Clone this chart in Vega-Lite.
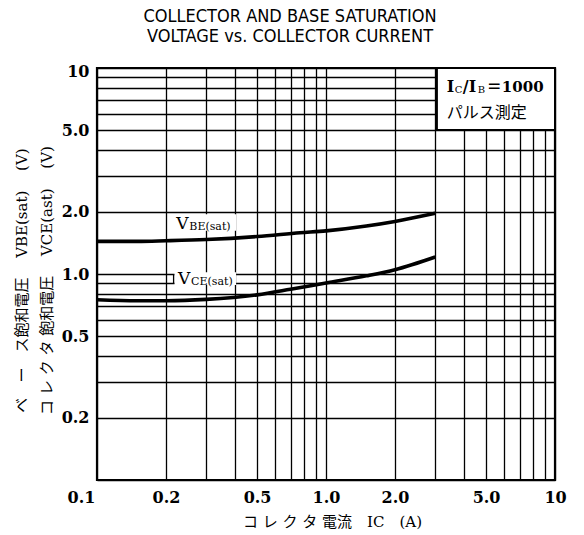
{
  "$schema": "https://vega.github.io/schema/vega-lite/v6.json",
  "width": 458,
  "height": 412,
  "autosize": {"type": "none"},
  "padding": {"left": 97, "top": 68, "right": 29, "bottom": 55},
  "background": "white",
  "config": {
    "view": {"stroke": "black", "strokeWidth": 2.2},
    "axis": {
      "grid": true,
      "gridColor": "black",
      "gridOpacity": 1,
      "gridWidth": 1.3,
      "domain": false,
      "ticks": false,
      "labelFont": "DejaVu Serif",
      "labelFontWeight": "bold",
      "labelFontSize": 16,
      "labelColor": "black",
      "titleColor": "black",
      "titleFontWeight": "normal"
    }
  },
  "title": {
    "text": ["COLLECTOR AND BASE SATURATION", "VOLTAGE vs. COLLECTOR CURRENT"],
    "font": "Liberation Sans Narrow, DejaVu Sans Condensed, sans-serif",
    "fontSize": 18,
    "fontWeight": "normal",
    "color": "black",
    "anchor": "middle",
    "dx": -36,
    "offset": 17,
    "lineHeight": 20
  },
  "datasets": {
    "curves": [
      {"ic": 0.1, "v": 1.44, "s": "VBE"},
      {"ic": 0.15, "v": 1.44, "s": "VBE"},
      {"ic": 0.2, "v": 1.45, "s": "VBE"},
      {"ic": 0.3, "v": 1.47, "s": "VBE"},
      {"ic": 0.5, "v": 1.52, "s": "VBE"},
      {"ic": 0.77, "v": 1.585, "s": "VBE"},
      {"ic": 1.0, "v": 1.62, "s": "VBE"},
      {"ic": 1.5, "v": 1.71, "s": "VBE"},
      {"ic": 2.0, "v": 1.8, "s": "VBE"},
      {"ic": 3.0, "v": 1.97, "s": "VBE"},
      {"ic": 0.1, "v": 0.75, "s": "VCE"},
      {"ic": 0.15, "v": 0.742, "s": "VCE"},
      {"ic": 0.2, "v": 0.742, "s": "VCE"},
      {"ic": 0.3, "v": 0.753, "s": "VCE"},
      {"ic": 0.5, "v": 0.792, "s": "VCE"},
      {"ic": 0.7, "v": 0.843, "s": "VCE"},
      {"ic": 1.0, "v": 0.905, "s": "VCE"},
      {"ic": 1.5, "v": 0.98, "s": "VCE"},
      {"ic": 2.0, "v": 1.05, "s": "VCE"},
      {"ic": 3.0, "v": 1.21, "s": "VCE"}
    ]
  },
  "layer": [
    {
      "data": {"name": "curves"},
      "mark": {"type": "line", "color": "black", "strokeWidth": 3.6, "interpolate": "monotone"},
      "encoding": {
        "x": {
          "field": "ic",
          "type": "quantitative",
          "scale": {"type": "log", "domain": [0.1, 10], "nice": false},
          "axis": {
            "values": [0.1, 0.2, 0.3, 0.4, 0.5, 0.6, 0.7, 0.8, 0.9, 1, 2, 3, 4, 5, 6, 7, 8, 9, 10],
            "labelExpr": "datum.value == 0.1 ? '0.1' : datum.value == 0.2 ? '0.2' : datum.value == 0.5 ? '0.5' : datum.value == 1 ? '1.0' : datum.value == 2 ? '2.0' : datum.value == 5 ? '5.0' : datum.value == 10 ? '10' : ''",
            "labelFlush": false,
            "labelPadding": 9,
            "labelOffset": {"condition": {"test": "datum.value == 0.1", "value": -16}, "value": 0},
            "title": "コ レ ク タ 電流　IC　(A)",
            "titleFont": "DejaVu Serif, Noto Sans CJK JP",
            "titleFontSize": 15,
            "titleX": 235,
            "titleY": 41,
            "titleAlign": "center",
            "titleBaseline": "middle"
          }
        },
        "y": {
          "field": "v",
          "type": "quantitative",
          "scale": {"type": "log", "domain": [0.1, 10], "nice": false},
          "axis": {
            "values": [0.1, 0.2, 0.3, 0.4, 0.5, 0.6, 0.7, 0.8, 0.9, 1, 2, 3, 4, 5, 6, 7, 8, 9, 10],
            "labelExpr": "datum.value == 0.2 ? '0.2' : datum.value == 0.5 ? '0.5' : datum.value == 1 ? '1.0' : datum.value == 2 ? '2.0' : datum.value == 5 ? '5.0' : datum.value == 10 ? '10' : ''",
            "labelFlush": false,
            "labelPadding": 8,
            "labelOffset": {"condition": {"test": "datum.value == 10", "value": 3}, "value": 0},
            "title": ["ベ　ー　ス飽和電圧　 VBE(sat)　 (V)", "コ レ ク タ 飽和電圧　 VCE(ast)　 (V)"],
            "titleFont": "DejaVu Serif, Noto Sans CJK JP",
            "titleFontSize": 15,
            "titleAngle": -90,
            "titleX": -76,
            "titleY": 212,
            "titleAlign": "center",
            "titleBaseline": "middle",
            "titleLineHeight": 25
          }
        },
        "detail": {"field": "s"}
      }
    },
    {
      "data": {"values": [{"x": 3.05, "x2": 10, "y": 5, "y2": 10}]},
      "mark": {"type": "rect", "fill": "white", "stroke": "black", "strokeWidth": 2},
      "encoding": {
        "x": {"field": "x", "type": "quantitative"},
        "x2": {"field": "x2"},
        "y": {"field": "y", "type": "quantitative"},
        "y2": {"field": "y2"}
      }
    },
    {
      "data": {"values": [
        {"x": 0.218, "x2": 0.405, "y": 0.885, "y2": 1.02},
        {"x": 0.218, "x2": 0.405, "y": 1.62, "y2": 1.95}
      ]},
      "mark": {"type": "rect", "fill": "white"},
      "encoding": {
        "x": {"field": "x", "type": "quantitative"},
        "x2": {"field": "x2"},
        "y": {"field": "y", "type": "quantitative"},
        "y2": {"field": "y2"}
      }
    },
    {
      "data": {"values": [{"x": 0.216, "y": 0.9, "y2": 0.99}]},
      "mark": {"type": "rule", "color": "black", "strokeWidth": 1.3},
      "encoding": {
        "x": {"field": "x", "type": "quantitative"},
        "y": {"field": "y", "type": "quantitative"},
        "y2": {"field": "y2"}
      }
    },
    {
      "data": {"values": [{"x": 0.222, "y": 1.75, "t": "V"}, {"x": 0.226, "y": 0.946, "t": "V"}]},
      "mark": {"type": "text", "align": "left", "baseline": "middle", "font": "DejaVu Serif", "fontSize": 17, "color": "black"},
      "encoding": {
        "x": {"field": "x", "type": "quantitative"},
        "y": {"field": "y", "type": "quantitative"},
        "text": {"field": "t"}
      }
    },
    {
      "data": {"values": [{"x": 0.222, "y": 1.75, "t": "BE(sat)"}, {"x": 0.226, "y": 0.946, "t": "CE(sat)"}]},
      "mark": {"type": "text", "align": "left", "baseline": "middle", "font": "DejaVu Serif", "fontSize": 11, "dx": 13, "dy": 3, "color": "black"},
      "encoding": {
        "x": {"field": "x", "type": "quantitative"},
        "y": {"field": "y", "type": "quantitative"},
        "text": {"field": "t"}
      }
    },
    {
      "data": {"values": [{"x": 3.37, "y": 8.1, "t": "I"}]},
      "mark": {"type": "text", "align": "left", "baseline": "middle", "font": "DejaVu Serif", "fontWeight": "bold", "fontSize": 16, "color": "black"},
      "encoding": {
        "x": {"field": "x", "type": "quantitative"},
        "y": {"field": "y", "type": "quantitative"},
        "text": {"field": "t"}
      }
    },
    {
      "data": {"values": [{"x": 3.37, "y": 8.1, "t": "C"}]},
      "mark": {"type": "text", "align": "left", "baseline": "middle", "font": "DejaVu Serif", "fontSize": 10, "dx": 8, "dy": 3, "color": "black"},
      "encoding": {
        "x": {"field": "x", "type": "quantitative"},
        "y": {"field": "y", "type": "quantitative"},
        "text": {"field": "t"}
      }
    },
    {
      "data": {"values": [{"x": 3.37, "y": 8.1, "t": "/I"}]},
      "mark": {"type": "text", "align": "left", "baseline": "middle", "font": "DejaVu Serif", "fontWeight": "bold", "fontSize": 16, "dx": 16, "color": "black"},
      "encoding": {
        "x": {"field": "x", "type": "quantitative"},
        "y": {"field": "y", "type": "quantitative"},
        "text": {"field": "t"}
      }
    },
    {
      "data": {"values": [{"x": 3.37, "y": 8.1, "t": "B"}]},
      "mark": {"type": "text", "align": "left", "baseline": "middle", "font": "DejaVu Serif", "fontSize": 10, "dx": 31, "dy": 3, "color": "black"},
      "encoding": {
        "x": {"field": "x", "type": "quantitative"},
        "y": {"field": "y", "type": "quantitative"},
        "text": {"field": "t"}
      }
    },
    {
      "data": {"values": [{"x": 3.37, "y": 8.1, "t": "＝1000"}]},
      "mark": {"type": "text", "align": "left", "baseline": "middle", "font": "DejaVu Serif, Noto Sans CJK JP", "fontWeight": "bold", "fontSize": 15, "dx": 40, "color": "black"},
      "encoding": {
        "x": {"field": "x", "type": "quantitative"},
        "y": {"field": "y", "type": "quantitative"},
        "text": {"field": "t"}
      }
    },
    {
      "data": {"values": [{"x": 3.37, "y": 6.05, "t": "パルス測定"}]},
      "mark": {"type": "text", "align": "left", "baseline": "middle", "font": "Noto Sans CJK JP", "fontSize": 16, "color": "black"},
      "encoding": {
        "x": {"field": "x", "type": "quantitative"},
        "y": {"field": "y", "type": "quantitative"},
        "text": {"field": "t"}
      }
    }
  ]
}
